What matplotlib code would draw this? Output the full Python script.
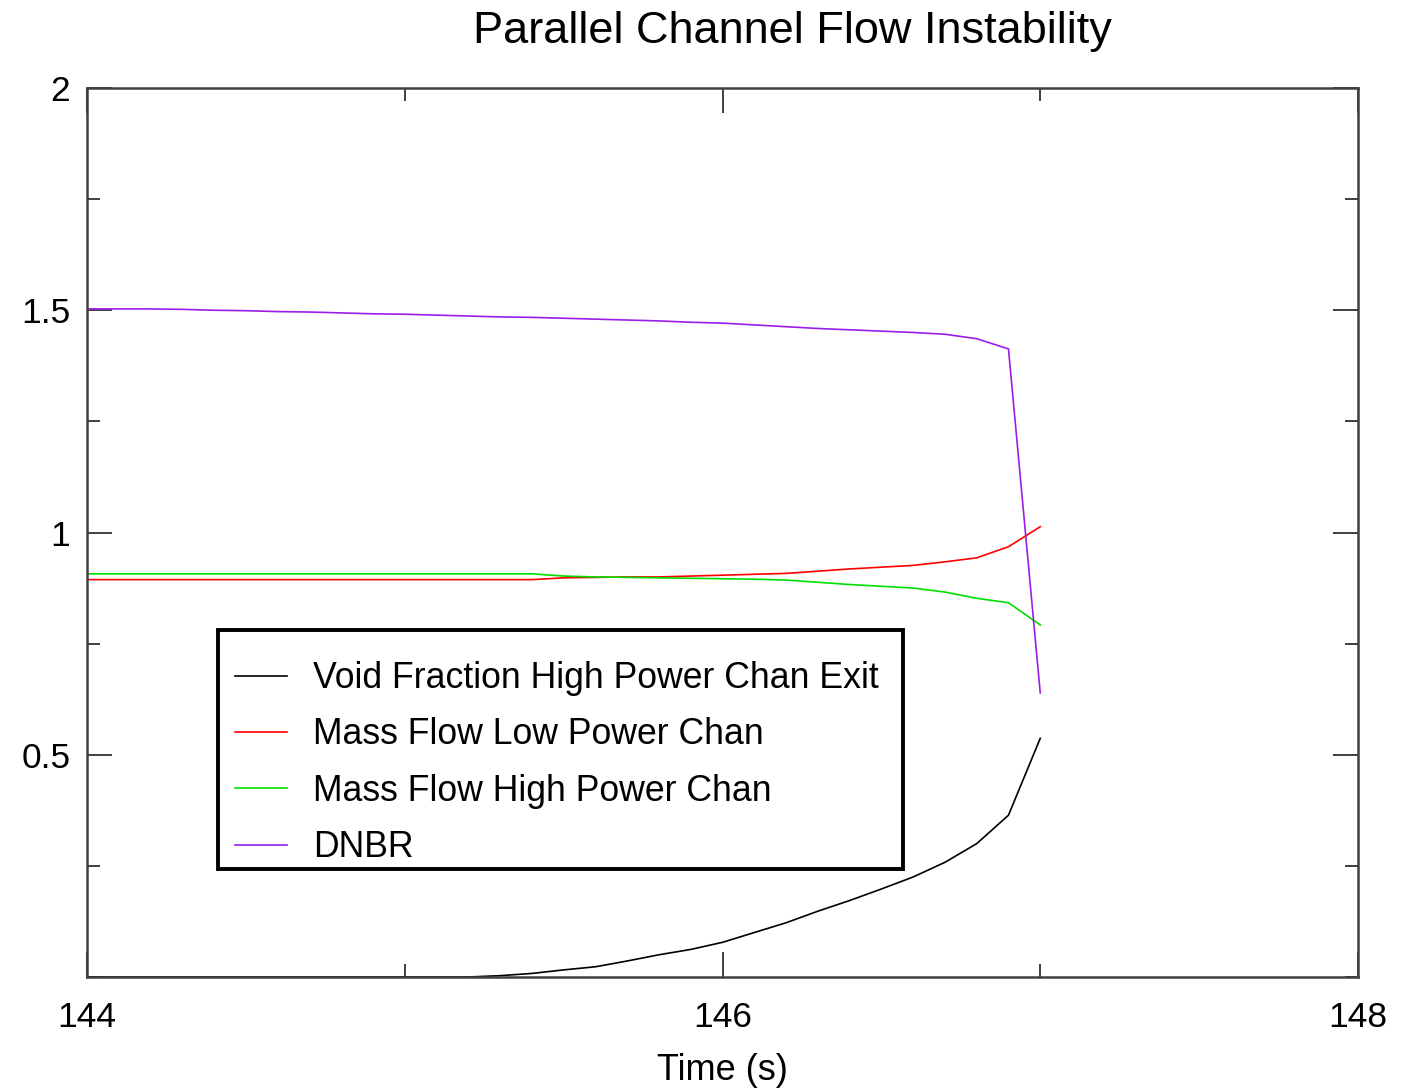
import matplotlib
matplotlib.use('Agg')
import matplotlib.pyplot as plt
from matplotlib.ticker import MultipleLocator
from matplotlib.patches import Rectangle

plt.rcParams['font.family'] = ['Liberation Sans', 'DejaVu Sans']

# time (s)
time = [144.0, 144.1, 144.2, 144.3, 144.4, 144.5, 144.6, 144.7, 144.8, 144.9,
        145.0, 145.1, 145.2, 145.3, 145.4, 145.5, 145.6, 145.7, 145.8, 145.9,
        146.0, 146.1, 146.2, 146.3, 146.4, 146.5, 146.6, 146.7, 146.8, 146.9,
        147.0]

void_frac = [0, 0, 0, 0, 0, 0, 0, 0, 0, 0,
             0, 0, 0, 0.003, 0.008, 0.016, 0.023, 0.036, 0.050, 0.062,
             0.078, 0.100, 0.122, 0.148, 0.172, 0.198, 0.225, 0.258, 0.300, 0.364,
             0.537]

flow_low = [0.894, 0.894, 0.894, 0.894, 0.894, 0.894, 0.894, 0.894, 0.894, 0.894,
            0.894, 0.894, 0.894, 0.894, 0.894, 0.898, 0.899, 0.900, 0.900, 0.902,
            0.904, 0.906, 0.908, 0.913, 0.918, 0.922, 0.926, 0.934, 0.943, 0.968,
            1.013]

flow_high = [0.907, 0.907, 0.907, 0.907, 0.907, 0.907, 0.907, 0.907, 0.907, 0.907,
             0.907, 0.907, 0.907, 0.907, 0.907, 0.902, 0.900, 0.899, 0.898, 0.897,
             0.896, 0.895, 0.893, 0.888, 0.883, 0.879, 0.875, 0.866, 0.852, 0.842,
             0.792]

dnbr = [1.503, 1.503, 1.503, 1.502, 1.500, 1.499, 1.497, 1.496, 1.494, 1.492,
        1.491, 1.489, 1.487, 1.485, 1.484, 1.482, 1.480, 1.478, 1.476, 1.473,
        1.471, 1.467, 1.463, 1.459, 1.456, 1.453, 1.450, 1.446, 1.436, 1.413,
        0.639]

labels = ['Void Fraction High Power Chan Exit', 'Mass Flow Low Power Chan',
          'Mass Flow High Power Chan', 'DNBR']

W, H = 1408, 1088
fig = plt.figure(figsize=(W/100, H/100), dpi=100)
ax = fig.add_axes([87/W, 111/H, 1271/W, 889/H])

ax.plot(time, void_frac, color='black', lw=1.2, label=labels[0])
ax.plot(time, flow_low, color='#ff0000', lw=1.2, label=labels[1])
ax.plot(time, flow_high, color='#00e000', lw=1.2, label=labels[2])
ax.plot(time, dnbr, color='#9a1ee8', lw=1.2, label=labels[3])

ax.set_xlim(144, 148)
ax.set_ylim(0, 2)
ax.xaxis.set_minor_locator(MultipleLocator(1))
ax.yaxis.set_minor_locator(MultipleLocator(0.25))
ax.set_yticks([0.5, 1, 1.5, 2])
ax.set_yticklabels(['0.5', '1', '1.5', '2'])
ax.set_xticks([144, 146, 148])
ax.set_xticklabels(['144', '146', '148'])

ax.tick_params(which='both', direction='in', top=True, right=True,
               color='#303030', width=1.3, labelsize=25.5)
ax.tick_params(which='major', length=18, pad=12)
ax.tick_params(axis='x', which='major', pad=17)
ax.tick_params(which='minor', length=9.5)
for s in ax.spines.values():
    s.set_color('#404040')
    s.set_linewidth(1.8)

ax.set_xlabel('Time (s)', fontsize=26, labelpad=14)

fig.text(792/W, 1 - 32/H, 'Parallel Channel Flow Instability',
         fontsize=32.5, ha='center', va='center')

# legend box drawn separately (uneven padding in the original)
box = Rectangle((218/W, 1 - 869/H), (903-218)/W, (869-630)/H,
                transform=fig.transFigure, facecolor='white',
                edgecolor='black', lw=2.8, zorder=4)
ax.add_patch(box)
box.set_clip_on(False)

leg = ax.legend(loc='upper left', bbox_to_anchor=(235/W, 1 - 661/H),
                bbox_transform=fig.transFigure,
                fontsize=25.7, frameon=False,
                handlelength=1.46, handletextpad=0.73, borderpad=0,
                labelspacing=0.6, borderaxespad=0)
leg.set_zorder(5)

fig.savefig('out.png', dpi=100)
